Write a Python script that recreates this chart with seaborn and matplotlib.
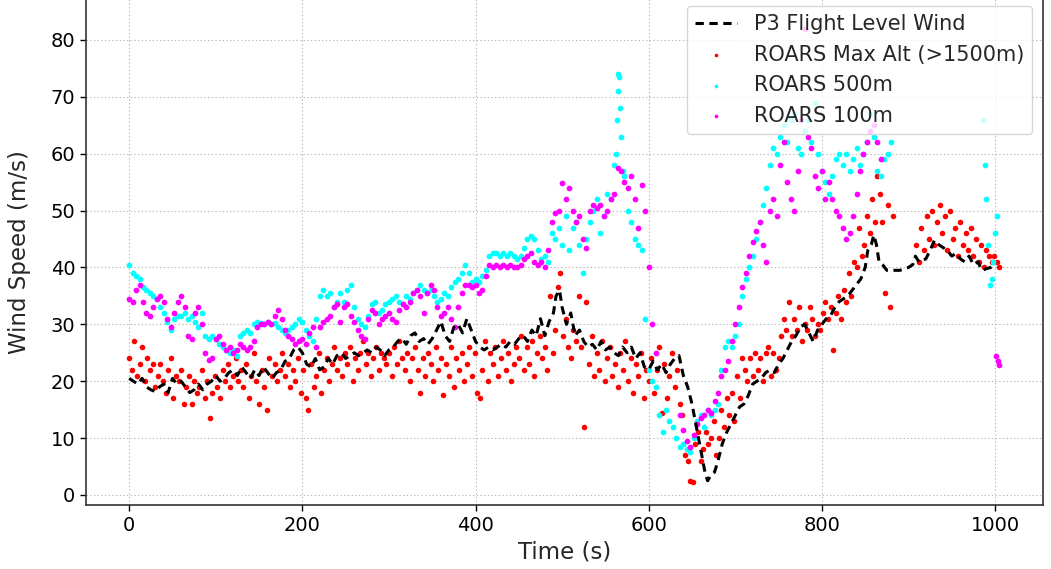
import numpy as np
import matplotlib
matplotlib.use("Agg")
import matplotlib.pyplot as plt
import seaborn as sns

# ---------------- data ----------------
# P3 flight-level wind (black dashed line), sampled every 5 s
p3_t = [0, 5, 10, 15, 20, 25, 30, 35, 40, 45, 50, 55, 60, 65, 70, 75, 80, 85, 90, 95,
        100, 105, 110, 115, 120, 125, 130, 135, 140, 145, 150, 155, 160, 165, 170, 175, 180, 185, 190, 195,
        200, 205, 210, 215, 220, 225, 230, 235, 240, 245, 250, 255, 260, 265, 270, 275, 280, 285, 290, 295,
        300, 305, 310, 315, 320, 325, 330, 335, 340, 345, 350, 355, 360, 365, 370, 375, 380, 385, 390, 395,
        400, 405, 410, 415, 420, 425, 430, 435, 440, 445, 450, 455, 460, 465, 470, 475, 480, 485, 490, 493,
        497, 500, 505, 510, 515, 520, 525, 530, 535, 540, 545, 550, 555, 560, 565, 570, 575, 580, 585, 590,
        595, 600, 605, 610, 615, 620, 625, 630, 635, 640, 645, 650, 655, 660, 665, 668, 672, 676, 680, 685,
        690, 695, 700, 705, 710, 715, 720, 725, 730, 735, 740, 745, 750, 755, 760, 765, 770, 775, 780, 785,
        790, 795, 800, 805, 810, 815, 820, 825, 830, 835, 840, 845, 850, 853, 857, 860, 863, 866, 870, 875,
        880, 890, 900, 905, 908, 912, 920, 925, 930, 935, 940, 945, 950, 955, 960, 965, 970, 975, 980, 985,
        990, 995, 1000]
p3_v = [20.5, 20, 19.5, 20.5, 19, 18.5, 18.2, 19, 19.5, 18, 20.5, 19.5, 20, 19, 18, 18.5, 19.5, 18.5, 19.5, 20,
        21, 20, 20.5, 21.5, 22, 21, 22.5, 21.5, 20.5, 22, 21, 22.5, 21.5, 20.5, 21.5, 22, 23.5, 24, 25.5, 26,
        25, 23, 22.5, 24, 22, 22.5, 24, 23, 24.5, 25, 24, 24.5, 25, 24.5, 25, 25.5, 25, 26, 25.5, 24.5,
        25.5, 26, 27, 27.5, 26.5, 28, 28.5, 27, 27.5, 26.5, 27.5, 29, 30.5, 28, 27, 29.5, 30, 28.5, 31, 29,
        27, 26, 25.5, 26, 25.5, 26, 26.5, 26, 27, 26.5, 27.5, 28, 27, 29, 28, 31, 28, 30.5, 32, 35,
        36, 33, 30, 32, 28, 29, 27, 26, 26.5, 25.5, 27, 25.5, 26, 25, 24.5, 26, 25, 26, 24, 25,
        22.5, 22, 23.5, 22, 23, 21.5, 23, 24, 24.5, 21, 19, 16, 12, 8, 4, 2.5, 3.5, 4, 6, 9,
        11, 12.5, 14, 15.5, 16, 17.5, 19.5, 20, 20.5, 21.5, 22, 21.5, 23, 24, 25.5, 27, 28, 29.5, 30, 28.5,
        27, 29, 30, 31, 31.5, 33, 34, 34.5, 35, 36, 37, 38, 40, 43, 44, 45.7, 44, 41, 40.5, 39.5,
        39.5, 39.5, 40, 40.5, 42, 41, 41.5, 43, 44.8, 44, 43.5, 43, 42, 42.5, 41.5, 41, 42, 40.5, 41, 39.5,
        39.8, 40, 40.5]

# ROARS max altitude (>1500 m) (red), every 3 s
red_v1 = [24, 22, 27, 21, 23, 26, 20, 24, 22, 23,
          19, 21, 23, 20, 18, 22, 24, 17, 21, 20,
          22, 16, 19, 21, 16, 20, 18, 19, 22, 17,
          20, 13.5, 18, 21, 19, 17, 22, 20, 23, 19,
          21, 24, 20, 22, 19, 23, 17, 21, 25, 20,
          16, 22, 19, 15, 24, 21, 23, 20, 22, 25,
          21, 23, 19, 22, 20, 24, 18, 22, 17, 15,
          23, 19, 21, 25, 18, 22, 24, 20, 23, 26,
          22, 24, 21, 25, 23, 26, 20, 24, 22, 25,
          27, 23, 25, 21, 24, 26, 22, 25, 24, 23,
          25, 21, 26, 23, 27, 24, 22, 25, 20, 24,
          26, 22, 18, 24, 21, 25, 23, 20, 26, 22,
          24, 17.5, 23, 21, 26, 19, 24, 22, 25, 20,
          23, 26, 21, 25, 18, 17, 22, 27, 20, 25,
          23, 26, 21, 24, 27, 22, 25, 20, 23, 26,
          24, 28, 22, 26, 23, 27, 21, 25, 28, 24,
          26, 22, 35, 25, 29, 36.5, 39, 28, 31, 26,
          24, 29, 27, 35, 26, 12, 34, 23, 28, 21,
          25, 22, 27, 20, 24, 26, 21, 23, 19, 25,
          22, 27, 20, 24, 18, 23, 21, 25, 17, 22,
          20, 24, 18, 22, 26, 14.5, 23, 17, 21, 25,
          19, 22, 16, 14, 7, 6, 2.5, 2.3, 9, 11,
          6, 8, 11, 9, 10, 13, 7, 10, 15, 12,
          17, 14, 18, 13, 21, 17, 24, 22, 20, 24,
          21, 25, 22, 24, 20, 25, 26, 21, 25, 22,
          24, 28, 31, 29, 34, 28, 31, 29, 33, 27,
          30, 29, 33, 31, 28, 30, 29, 32, 34, 31,
          33, 25.5, 32, 35, 31, 36, 34, 39, 35, 41,
          40, 47, 42, 44, 49, 46, 52, 48, 56, 53,
          48, 35.5, 51, 33, 49]
red_v2 = [44, 41, 47, 43, 49, 45, 50, 44, 48, 51,
          46, 49, 43, 50, 45, 47, 42, 48, 44, 46,
          43, 47, 42, 45, 41, 44, 40, 43, 42, 41,
          42, 41, 40]

# ROARS 500 m (cyan)
cyan_v1 = [40.4, 39, 38.5, 38, 36.5, 36, 35.5, 35, 34.5, 33,
           32, 30.5, 29, 31, 31.5, 31.5, 32, 31, 31.5, 30.5,
           29.5, 32, 28, 27.5, 28, 27.5, 26.5, 26, 25.5, 25,
           25.5, 24.5, 28, 28.5, 29, 28.5, 30, 30.5, 30.3, 30,
           30.5, 30, 30.3, 29.5, 29, 28.5, 29, 29.5, 30, 31,
           30.5, 29, 28, 27, 31, 35, 36, 35, 35.5, 33,
           34, 35.5, 34, 36, 37, 33, 31, 30, 29.5, 31.5,
           33.5, 34, 32, 32.5, 33.5, 34, 34.5, 35, 34, 33.5,
           35, 34.5, 35.5, 36, 37, 36, 35.5, 36, 35, 34,
           34.5, 35.5, 35, 36.5, 37.5, 38, 39, 40.5, 39, 37.5,
           38, 37.5, 38.5, 39.5, 42, 42.5, 42.5, 42, 42.5, 42,
           42.5, 42, 41.5, 42, 43.5, 45, 45.5, 45, 43, 41.5,
           42, 41, 46, 45, 47, 44, 49, 43, 47, 48,
           44, 39, 45, 48, 50, 52, 46, 49, 53, 52,
           58]
cyan_spike_t = [562, 563, 564, 565, 566, 567, 568, 570]
cyan_spike_v = [60, 66, 71, 74, 73.5, 68, 63, 57]
cyan_v2 = [56, 50, 48, 45, 44, 43, 31, 22, 20, 19,
           14, 11, 15, 13, 12, 10, 8.5, 9, 8, 7.5,
           10, 13, 14, 12, 15, 14, 15, 16, 22, 26,
           27, 26, 28, 30, 35, 38, 40, 42, 45, 48,
           51, 54, 58, 61, 60, 63, 65, 62, 66, 67,
           61, 60, 64, 66, 62, 69, 60, 57, 55, 53,
           56, 59, 60, 58, 60, 57, 59, 61, 58, 60,
           62, 67, 63, 57, 56, 59, 60, 62]
cyan_end_t = [986, 988, 990, 992, 994, 996, 998, 1000, 1002]
cyan_end_v = [66, 58, 52, 44, 37, 38, 41, 46, 49]

# ROARS 100 m (magenta)
mag_v1 = [34.5, 34, 36, 37, 34, 32, 31.5, 33, 34.5, 35,
          34, 31, 29.5, 32, 34, 35, 33, 28, 27.5, 32,
          33, 30, 25, 23.7, 24, 27.5, 28, 26.5, 25.5, 26,
          25, 25.5, 26.5, 26, 25.5, 26, 27, 29.5, 30, 30,
          30.5, 30, 31.5, 32.5, 31, 29, 28, 27.5, 26.5, 27,
          27.5, 26.5, 28.5, 29.5, 26, 29.5, 30.5, 31, 31.5, 33,
          33.5, 30.5, 33, 33.5, 31.5, 30.5, 29, 28, 27.5, 31,
          32.5, 32, 30, 31, 31.5, 32, 31, 30.5, 32.5, 33.5,
          33, 34, 35.5, 36, 35, 32, 35.5, 37, 36, 33,
          31.5, 32, 33, 31, 29.5, 33, 35.5, 37, 37, 36.5,
          37, 35.5, 36, 38.5, 40.5, 40, 40.5, 40, 40.5, 40,
          40.5, 40, 40, 40.5, 41.5, 42, 42.5, 41, 40.5, 41,
          40, 43, 48, 49.5, 50, 54.8, 52, 54, 50, 48,
          49, 45, 43.5, 50, 51, 50.5, 51, 49, 50, 52,
          53, 57.5, 57, 55, 54, 56, 52, 47, 54.5, 50,
          40, 30, 25]
mag_v2 = [14, 11.5, 9.5, 8.5, 10.5, 12.5, 13.5, 14, 15, 14.5,
          16.5, 18, 21, 22, 23.5, 27, 30, 33, 36.5, 39,
          42, 44.5, 46.5, 48, 44, 41, 50, 52, 49, 58,
          62, 55, 52, 50, 57, 66, 82, 63, 61, 56,
          54, 57, 52, 55, 52, 50, 49, 47, 45, 46,
          49, 53, 57, 60, 62, 64, 65, 62, 59]
mag_end_t = [1001, 1003, 1005]
mag_end_v = [24.5, 23.5, 22.8]

# ---------------- assemble ----------------
red_t = np.concatenate([np.arange(len(red_v1)) * 3, 909 + np.arange(len(red_v2)) * 3])
red_v = np.concatenate([red_v1, red_v2])

cyan_t = np.concatenate([np.arange(len(cyan_v1)) * 4, cyan_spike_t,
                         572 + np.arange(len(cyan_v2)) * 4, cyan_end_t])
cyan_v = np.concatenate([cyan_v1, cyan_spike_v, cyan_v2, cyan_end_v])

mag_t = np.concatenate([np.arange(len(mag_v1)) * 4, 636 + np.arange(len(mag_v2)) * 4, mag_end_t])
mag_v = np.concatenate([mag_v1, mag_v2, mag_end_v])

# ---------------- plot ----------------
sns.set_style("white")
plt.rcParams['font.family'] = ['DejaVu Sans']
plt.rcParams['lines.scale_dashes'] = False

fig = plt.figure(figsize=(10.51, 5.69), dpi=100)
ax = fig.add_axes([0.0815, 0.1121, 0.9108, 0.8956])

dash_style = (0, (6.0, 4.0))
sns.lineplot(x=p3_t, y=p3_v, ax=ax, color='black', linewidth=2.2, linestyle=dash_style,
             estimator=None, sort=False, label='P3 Flight Level Wind', zorder=4)
sns.scatterplot(x=red_t, y=red_v, ax=ax, color='red', s=16, linewidth=0,
                label='ROARS Max Alt (>1500m)', zorder=2)
sns.scatterplot(x=cyan_t, y=cyan_v, ax=ax, color='cyan', s=17, linewidth=0,
                label='ROARS 500m', zorder=2)
sns.scatterplot(x=mag_t, y=mag_v, ax=ax, color='magenta', s=17, linewidth=0,
                label='ROARS 100m', zorder=2)

ax.set_xlim(-50.25, 1055.25)
ax.set_ylim(-1.8, 87.8)
ax.set_xticks([0, 200, 400, 600, 800, 1000])
ax.set_yticks([0, 10, 20, 30, 40, 50, 60, 70, 80])
ax.grid(True, linestyle=':', color='#bbbbbb', linewidth=0.8)
ax.set_axisbelow(True)
for sp in ax.spines.values():
    sp.set_color('#333333')
    sp.set_linewidth(1.2)
ax.tick_params(axis='both', labelsize=14, length=4, width=1, colors='black', direction='out',
               left=True, bottom=True)
ax.set_xlabel('Time (s)', fontsize=16.5)
ax.set_ylabel('Wind Speed (m/s)', fontsize=16.5)
ax.yaxis.set_label_coords(-0.057, 0.497)

leg = ax.legend(loc='upper right', fontsize=15, framealpha=0.8, markerscale=0.65)
for ln in leg.get_lines():
    if ln.get_color() == 'black':
        ln.set_linestyle(dash_style)

fig.savefig('out.png', dpi=100)
